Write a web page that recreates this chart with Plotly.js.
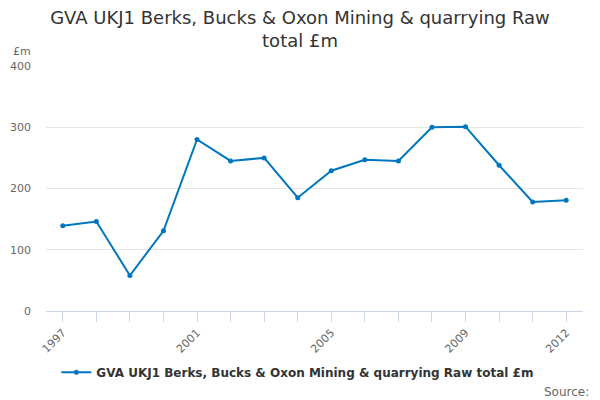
<!DOCTYPE html>
<html>
<head>
<meta charset="utf-8">
<script src="https://cdn.plot.ly/plotly-3.0.1.min.js"></script>
<style>html,body{margin:0;padding:0;background:#fff;}#chart{width:600px;height:400px;}</style>
</head>
<body>
<div id="chart"></div>
<script>
const years = ["1997","1998","1999","2000","2001","2002","2003","2004","2005","2006","2007","2008","2009","2010","2011","2012"];
const values = [139, 146, 58, 131, 280, 245, 250, 185, 229, 247, 245, 300, 301, 238, 178, 181];
const labelledYears = ["1997","2001","2005","2009","2012"];
const seriesName = "GVA UKJ1 Berks, Bucks & Oxon Mining & quarrying Raw total £m";
const yTicks = [0, 100, 200, 300, 400];

const ticktext = years.map(y => labelledYears.includes(y) ? y : "");

const trace = {
  x: years, y: values, type: "scatter", mode: "lines+markers",
  name: seriesName,
  line: {color: "#0076be", width: 2},
  marker: {color: "#0076be", size: 5}
};

const layout = {
  width: 600, height: 400,
  margin: {l: 46, r: 17, t: 66, b: 88.5, autoexpand: false},
  paper_bgcolor: "#fff", plot_bgcolor: "#fff",
  font: {family: "DejaVu Sans, sans-serif", color: "#666"},
  title: {text: "GVA UKJ1 Berks, Bucks & Oxon Mining & quarrying Raw<br>total £m",
    font: {size: 18, color: "#333"}, x: 0.5, xref: "container", xanchor: "center", y: 0.94, yanchor: "top"},
  xaxis: {
    type: "category", range: [-0.5, 15.5],
    tickvals: years, ticktext: ticktext, tickangle: -45,
    ticks: "outside", ticklen: 10, tickcolor: "#ccd6eb", tickwidth: 1,
    showline: true, linecolor: "#ccd6eb", linewidth: 1,
    showgrid: false, zeroline: false,
    tickfont: {size: 11, color: "#666"}
  },
  yaxis: {
    range: [0, 400], tickvals: yTicks,
    showgrid: true, gridcolor: "#e6e6e6", zeroline: false, showline: false,
    tickfont: {size: 11, color: "#666"}, ticklabelstandoff: 14
  },
  showlegend: true,
  legend: {orientation: "h", x: 0.469, xanchor: "center", y: -0.25, yanchor: "middle",
    itemwidth: 30,
    font: {size: 12, color: "#333", weight: "bold"}},
  annotations: [
    {text: "£m", xref: "paper", yref: "paper", x: -0.065, xanchor: "left", y: 1.06, yanchor: "middle",
      showarrow: false, font: {size: 11, color: "#666"}},
    {text: "Source:", xref: "paper", yref: "paper", x: 1.015, xanchor: "right", y: -0.33, yanchor: "middle",
      showarrow: false, font: {size: 12, color: "#666"}}
  ]
};

Plotly.newPlot("chart", [trace], layout, {displayModeBar: false, staticPlot: true});
</script>
</body>
</html>
